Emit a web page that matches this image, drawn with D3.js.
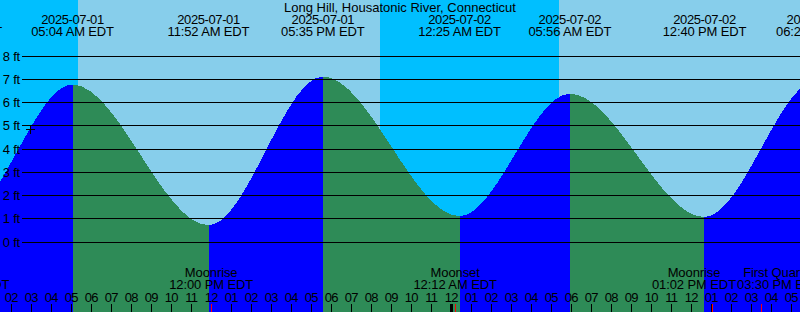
<!DOCTYPE html>
<html>
<head>
<meta charset="utf-8">
<script src="https://cdn.jsdelivr.net/npm/d3@7"></script>
<style>
  body { margin: 0; overflow: hidden; background: #fff; }
  svg { display: block; font-family: "Liberation Sans", Arial, sans-serif; }
</style>
</head>
<body>
<script>
  // station and tide predictions (high / low)
  // first and last entries lie outside the window, they only shape the curve ends
  const stationName = "Long Hill, Housatonic River, Connecticut";
  const tideTimes = ["2025-06-30 16:50", "2025-06-30 23:29", "2025-07-01 05:04", "2025-07-01 11:52",
                     "2025-07-01 17:35", "2025-07-02 00:25", "2025-07-02 05:56", "2025-07-02 12:40",
                     "2025-07-02 18:20", "2025-07-03 01:10"];
  const tideHeights = [6.6, 0.92, 6.75, 0.70, 7.10, 1.09, 6.36, 1.05, 6.97, 1.2];

  // sunrise / sunset, day and night bands
  const sunTimes = ["2025-07-01 05:19", "2025-07-01 20:25", "2025-07-02 05:22"];

  // moon events at the bottom
  const moonEvents = ["Moonset", "Moonrise", "Moonset", "Moonrise", "First Quarter"];
  const moonTimes = ["2025-06-30 23:50", "2025-07-01 12:00", "2025-07-02 00:12", "2025-07-02 13:02", "2025-07-02 15:30"];

  const feetTicks = [0, 1, 2, 3, 4, 5, 6, 7, 8];

  // current time marker
  const nowTime = "2025-07-01 02:55";
  const nowHeight = 4.85;

  const width = 800, height = 312;
  const parse = d3.timeParse("%Y-%m-%d %H:%M");
  const fmtDate = d3.timeFormat("%Y-%m-%d");
  const fmtTime = d3.timeFormat("%I:%M %p EDT");

  let svg = d3.select("body").append("svg")
    .attr("width", width)
    .attr("height", height);

  let x = d3.scaleTime()
    .domain([parse("2025-07-01 01:25"), parse("2025-07-02 17:25")])
    .range([-0.5, 799.5]);

  let y = d3.scaleLinear()
    .domain([0, 8])
    .range([241.5, 55.5]);

  // day / night background
  let dayStart = x.domain()[0];
  let dayEnd = x.domain()[1];
  let bandEdges = [dayStart].concat(sunTimes.map(parse), [dayEnd]);
  for (let i = 0; i < bandEdges.length - 1; i++) {
    svg.append("rect")
      .attr("x", x(bandEdges[i]))
      .attr("y", 0)
      .attr("width", x(bandEdges[i + 1]) - x(bandEdges[i]))
      .attr("height", height)
      .attr("fill", i % 2 == 0 ? "#00bfff" : "#87ceeb")
      .attr("shape-rendering", "crispEdges");
  }

  // tide curve, blue when rising, green when falling
  let tides = tideTimes.map((t, i) => ({ t: parse(t), h: tideHeights[i] }));
  let area = d3.area()
    .x((d) => x(d.t))
    .y0(height)
    .y1((d) => y(d.h))
    .curve(d3.curveMonotoneX);

  let defs = svg.append("defs");
  for (let i = 0; i < tides.length - 1; i++) {
    let x0 = Math.round(x(tides[i].t));
    let x1 = Math.round(x(tides[i + 1].t));
    defs.append("clipPath")
      .attr("id", "seg" + i)
      .append("rect")
        .attr("x", x0)
        .attr("y", 0)
        .attr("width", x1 - x0)
        .attr("height", height);

    svg.append("path")
      .datum(tides)
      .attr("d", area)
      .attr("clip-path", "url(#seg" + i + ")")
      .attr("fill", tides[i + 1].h > tides[i].h ? "#0000ff" : "#2e8b57")
      .attr("shape-rendering", "crispEdges");
  }

  // horizontal feet lines and labels
  svg.append("g").selectAll("line")
    .data(feetTicks)
    .enter()
    .append("line")
      .attr("x1", 22)
      .attr("x2", width)
      .attr("y1", (d) => Math.round(y(d)) + 0.5)
      .attr("y2", (d) => Math.round(y(d)) + 0.5)
      .attr("stroke", "#000")
      .attr("stroke-width", 1);

  svg.append("g").selectAll("text")
    .data(feetTicks)
    .enter()
    .append("text")
      .attr("x", 20)
      .attr("y", (d) => y(d) + 5)
      .attr("text-anchor", "end")
      .style("font-size", "13px")
      .style("letter-spacing", "-0.2px")
      .text((d) => d + " ft");

  // title
  svg.append("text")
    .attr("x", width / 2)
    .attr("y", 12)
    .attr("text-anchor", "middle")
    .style("font-size", "13px")
    .text(stationName);

  // high / low labels on top (only the ones that reach into the window)
  let tideLabels = svg.append("g").selectAll("g")
    .data(tides.filter((d) => x(d.t) > -60 && x(d.t) < width + 60))
    .enter()
    .append("g")
      .attr("transform", (d) => "translate(" + x(d.t) + ",0)")
      .style("font-size", "13px")
      .attr("text-anchor", "middle");
  tideLabels.append("text").attr("y", 24)
    .style("letter-spacing", "-0.4px")
    .text((d) => fmtDate(d.t));
  tideLabels.append("text").attr("y", 36)
    .style("letter-spacing", "-0.15px")
    .text((d) => fmtTime(d.t));

  // current time marker
  let nx = Math.round(x(parse(nowTime))) + 0.5;
  let ny = Math.round(y(nowHeight)) + 0.5;
  svg.append("path")
    .attr("d", "M" + (nx - 4.5) + "," + ny + "H" + (nx + 4.5) + "M" + nx + "," + (ny - 4.5) + "V" + (ny + 4.5))
    .attr("stroke", "#000")
    .attr("stroke-width", 1);

  // hour ticks along the bottom
  let hours = d3.timeHour.range(d3.timeHour.offset(dayStart, -1), d3.timeHour.offset(dayEnd, 1));
  svg.append("g").selectAll("line")
    .data(hours)
    .enter()
    .append("line")
      .attr("x1", (d) => Math.round(x(d)) + 0.5)
      .attr("x2", (d) => Math.round(x(d)) + 0.5)
      .attr("y1", 304)
      .attr("y2", height)
      .attr("stroke", "#000")
      .attr("stroke-width", (d) => d.getHours() == 0 ? 3 : 1);

  svg.append("g").selectAll("text")
    .data(hours)
    .enter()
    .append("text")
      .attr("x", (d) => x(d))
      .attr("y", 302)
      .attr("text-anchor", "middle")
      .style("font-size", "13px")
      .style("letter-spacing", "-0.8px")
      .text(d3.timeFormat("%I"));

  // moon events: red ticks and two-line labels, pushed apart when they collide
  let moon = moonTimes.map((t, i) => ({ t: parse(t), name: moonEvents[i] }));
  svg.append("g").selectAll("line")
    .data(moon)
    .enter()
    .append("line")
      .attr("x1", (d) => Math.round(x(d.t)) + 0.5)
      .attr("x2", (d) => Math.round(x(d.t)) + 0.5)
      .attr("y1", 304)
      .attr("y2", height)
      .attr("stroke", "#ff0000")
      .attr("stroke-width", 1);

  let moonLabels = svg.append("g").selectAll("g")
    .data(moon)
    .enter()
    .append("g")
      .style("font-size", "13px")
      .style("letter-spacing", "-0.1px")
      .attr("text-anchor", "middle");
  moonLabels.append("text").attr("y", 277).text((d) => d.name);
  moonLabels.append("text").attr("y", 289).text((d) => fmtTime(d.t));

  moonLabels.each(function(d) {
    let w = 0;
    d3.select(this).selectAll("text").each(function() {
      w = Math.max(w, this.getComputedTextLength());
    });
    d.w = w;
    d.cx = x(d.t);
  });
  for (let i = 0; i < moon.length - 1; i++) {
    let a = moon[i], b = moon[i + 1];
    let overlap = (a.cx + a.w / 2 + 1) - (b.cx - b.w / 2);
    if (overlap > 0) {
      a.cx -= overlap / 2;
      b.cx += overlap / 2;
    }
  }
  moonLabels.attr("transform", (d) => "translate(" + d.cx + ",0)");
</script>
</body>
</html>
